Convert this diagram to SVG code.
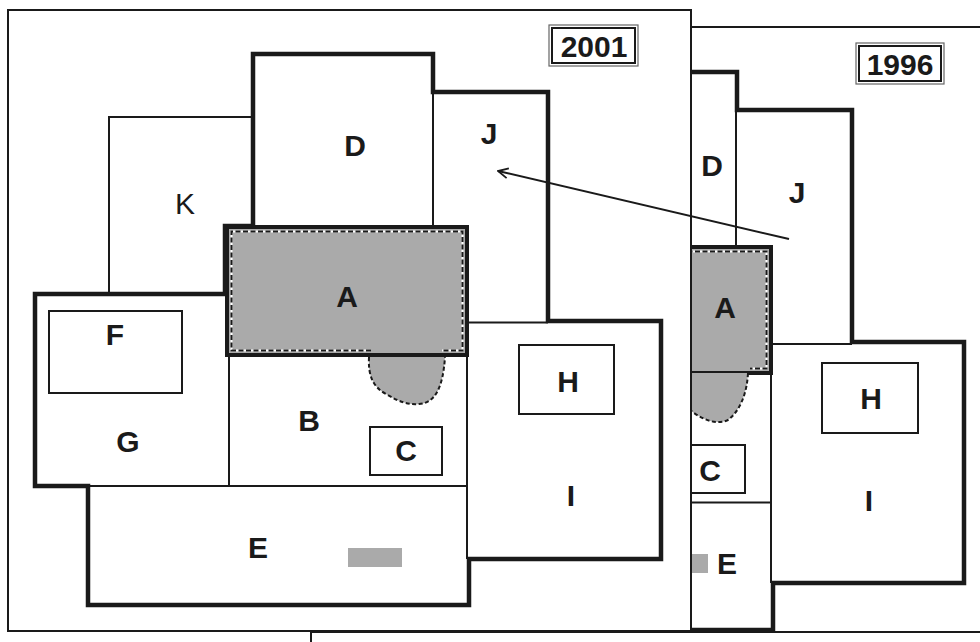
<svg xmlns="http://www.w3.org/2000/svg" width="980" height="642" viewBox="0 0 980 642">
<style>
.frame{fill:#fff;stroke:#1a1a1a;stroke-width:2}
.thick{fill:none;stroke:#1a1a1a;stroke-width:4.5;stroke-linejoin:miter;stroke-linecap:square}
.thin{fill:none;stroke:#1a1a1a;stroke-width:2}
.box{fill:#fff;stroke:#1a1a1a;stroke-width:2}
.gray{fill:#aaaaaa}
.aout{fill:#aaaaaa;stroke:#1a1a1a;stroke-width:4}
.dashw{fill:none;stroke:#fff;stroke-width:2}
.dashb{fill:none;stroke:#1a1a1a;stroke-width:2;stroke-dasharray:5 2.5}
.blobline{fill:none;stroke:#1a1a1a;stroke-width:2;stroke-dasharray:4 2.5}
.lbl{font-family:"Liberation Sans",Arial,sans-serif;font-size:30px;font-weight:bold;fill:#1a1a1a;text-anchor:middle}
.lblr{font-family:"Liberation Sans",Arial,sans-serif;font-size:30px;font-weight:normal;fill:#1a1a1a;text-anchor:middle}
.yo{fill:#fff;stroke:#666;stroke-width:1.2}
.yi{fill:none;stroke:#1a1a1a;stroke-width:2}
</style>
<defs>
<marker id="open" viewBox="0 0 12 12" refX="11" refY="6" markerWidth="12" markerHeight="12" markerUnits="userSpaceOnUse" orient="auto">
<path d="M1,1 L11,6 L1,11" fill="none" stroke="#1a1a1a" stroke-width="1.8"/>
</marker>
</defs>

<!-- 1996 plan (back sheet) -->
<g id="plan1996">
<rect id="frame1996" class="frame" x="311" y="27" width="720" height="605" stroke-width="2.5"/>
<line x1="311" y1="630" x2="311" y2="642" stroke="#1a1a1a" stroke-width="2"/>
<g id="label1996">
<rect class="yo" x="856" y="43" width="88" height="41"/>
<rect class="yi" x="859" y="46" width="82" height="35"/>
<text class="lbl" x="900" y="75">1996</text>
</g>
<g id="A1996">
<rect class="aout" x="650" y="247" width="121" height="126"/>
<path class="dashw" d="M650,251.5 H766.5 V368.5 H750"/>
<path class="dashb" d="M650,251.5 H766.5 V368.5 H750"/>
<text class="lbl" x="725" y="318">A</text>
</g>
<g id="blob1996">
<path class="gray" d="M650,373 H748 C747,392 741,410 728,420 C715,426 700,418 690,410 L650,400 Z"/>
<path class="blobline" d="M748,373 C747,392 741,410 728,420 C715,426 700,418 690,410"/>
</g>
<g id="D1996"><text class="lbl" x="712" y="176">D</text></g>
<g id="J1996"><text class="lbl" x="797" y="203">J</text></g>
<g id="C1996">
<rect class="box" x="650" y="445" width="95" height="48"/>
<text class="lbl" x="710" y="481">C</text>
</g>
<g id="E1996">
<rect class="gray" x="686" y="554" width="22" height="19"/>
<text class="lbl" x="727" y="574">E</text>
</g>
<g id="H1996">
<rect class="box" x="822" y="363" width="96" height="70"/>
<text class="lbl" x="871" y="409">H</text>
</g>
<g id="I1996"><text class="lbl" x="869" y="511">I</text></g>
<g id="walls1996">
<path class="thin" d="M736,110 V247 M771,373 V583 M771,344 H852 M650,502.5 H771"/>
<path class="thick" d="M650,72 H737 V110 H852 V342 H964 V583 H773 V630 H650"/>
</g>
</g>

<!-- 2001 plan (front sheet) -->
<g id="plan2001">
<rect id="frame2001" class="frame" x="8" y="10" width="683" height="621"/>
<g id="label2001">
<rect class="yo" x="549" y="25" width="89" height="41"/>
<rect class="yi" x="552" y="28" width="83" height="35"/>
<text class="lbl" x="594" y="57">2001</text>
</g>
<g id="K">
<path class="thin" d="M109,294 V117 H253"/>
<text class="lblr" x="185" y="214">K</text>
</g>
<g id="D"><text class="lbl" x="355" y="156">D</text></g>
<g id="J"><text class="lbl" x="489" y="144">J</text></g>
<g id="A">
<rect class="aout" x="227" y="227" width="240" height="128"/>
<path class="dashw" d="M371,350.5 H231.5 V231.5 H462.5 V350.5 H442"/>
<path class="dashb" d="M371,350.5 H231.5 V231.5 H462.5 V350.5 H442"/>
<text class="lbl" x="347" y="307">A</text>
</g>
<g id="blob">
<path class="gray" d="M369,357 C368,376 373,387 386,394 C399,402 409,405 419,404 C436,403 443,386 445,357 Z"/>
<path class="blobline" d="M369,357 C368,376 373,387 386,394 C399,402 409,405 419,404 C436,403 443,386 445,357"/>
</g>
<g id="F">
<rect class="box" x="49" y="311" width="133" height="82"/>
<text class="lbl" x="115" y="345">F</text>
</g>
<g id="G"><text class="lbl" x="128" y="452">G</text></g>
<g id="B"><text class="lbl" x="309" y="431">B</text></g>
<g id="C">
<rect class="box" x="370" y="427" width="72" height="48"/>
<text class="lbl" x="406" y="461">C</text>
</g>
<g id="H">
<rect class="box" x="519" y="345" width="95" height="69"/>
<text class="lbl" x="568" y="392">H</text>
</g>
<g id="I"><text class="lbl" x="571" y="506">I</text></g>
<g id="E">
<rect class="gray" x="348" y="548" width="54" height="19"/>
<text class="lbl" x="258" y="558">E</text>
</g>
<g id="walls2001">
<path class="thin" d="M433,92 V227 M467,322.5 H548 M467,355 V559 M229,355 V486 M88,486 H467"/>
<path class="thick" d="M35,294 H225 V226 H253 V54 H433 V92 H548 V321 H661 V559 H469 V605 H88 V486 H35 Z"/>
</g>
</g>

<g id="connectors">
<line x1="789" y1="239" x2="498" y2="171" stroke="#1a1a1a" stroke-width="2" marker-end="url(#open)"/>
</g>
</svg>
